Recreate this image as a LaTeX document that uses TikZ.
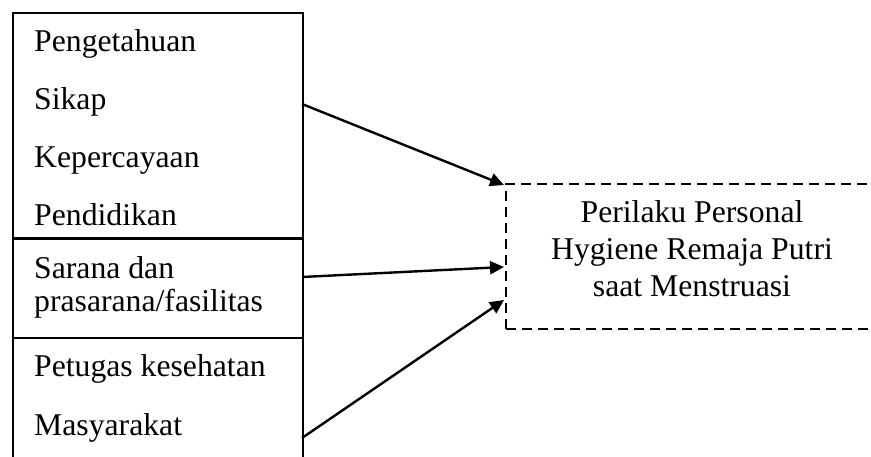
\documentclass[tikz,border=0pt]{standalone}
\usepackage{fontspec}
\setmainfont{Liberation Serif}
\usetikzlibrary{arrows.meta}
\begin{document}
\begin{tikzpicture}[x=1pt,y=-1pt,line width=2.4pt,
  txt/.style={inner sep=0pt,font=\fontsize{31.7}{34}\selectfont},
  lbl/.style={txt,anchor=base west},
  ctr/.style={txt,anchor=base},
  panel/.style={draw,anchor=north west,inner sep=0pt,minimum width=290pt},
  target/.style={draw,dashed,dash pattern=on 10pt off 6pt,anchor=north west,inner sep=0pt,minimum width=420pt,minimum height=145pt},
  arr/.style={-{Triangle[length=14pt,width=13pt]},line width=2.4pt}]
\useasboundingbox (0,0) rectangle (871,457);
\clip (0,0) rectangle (871,457);

% factor panels on the left
\node[panel,minimum height=225.5pt] (p1) at (12,12) {};
\node[panel,minimum height=99.5pt] (p2) at (12,237.5) {};
\node[panel,minimum height=150pt] (p3) at (12,337) {};

\node[lbl] (l1) at (33,52) {Pengetahuan};
\node[lbl] (l2) at (33,110) {Sikap};
\node[lbl] (l3) at (33,168) {Kepercayaan};
\node[lbl] (l4) at (33,226) {Pendidikan};
\node[lbl] (l5) at (33,279) {Sarana dan};
\node[lbl] (l6) at (33,312) {prasarana/fasilitas};
\node[lbl] (l7) at (33,377) {Petugas kesehatan};
\node[lbl] (l8) at (33,435) {Masyarakat};

% outcome box
\node[target] (out) at (505,183) {};
\node[ctr] (t1) at (692,223) {Perilaku Personal};
\node[ctr] (t2) at (692,260) {Hygiene Remaja Putri};
\node[ctr] (t3) at (692,297) {saat Menstruasi};

% connector end points
\coordinate (s1) at (302,104);
\coordinate (s2) at (302,277);
\coordinate (s3) at (302,438);
\coordinate (e1) at (504,185);
\coordinate (e2) at (504,267);
\coordinate (e3) at (504,300);

\draw[arr] (s1) -- (e1);
\draw[arr] (s2) -- (e2);
\draw[arr] (s3) -- (e3);
\end{tikzpicture}
\end{document}
